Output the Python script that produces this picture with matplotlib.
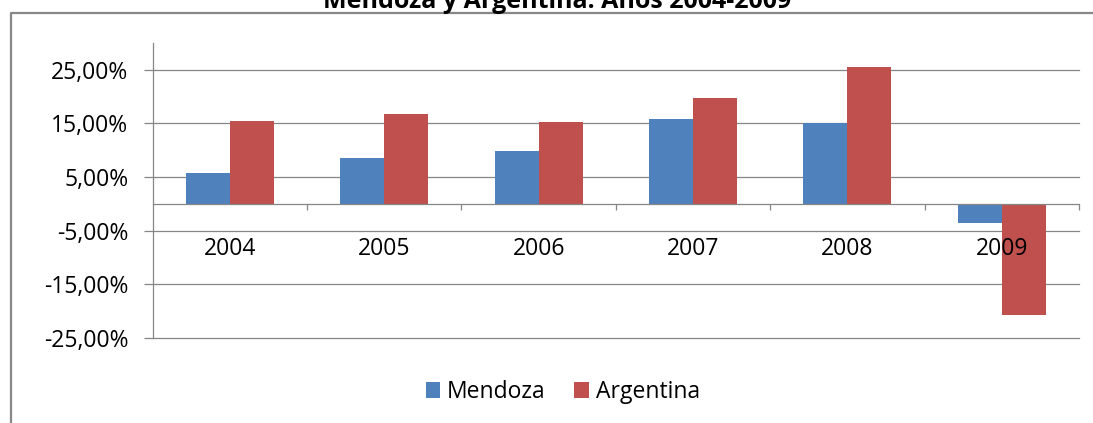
import matplotlib.pyplot as plt
from matplotlib.lines import Line2D
from matplotlib.ticker import FuncFormatter

# Data
years = ["2004", "2005", "2006", "2007", "2008", "2009"]
mendoza = [5.8, 8.6, 9.9, 15.9, 15.1, -3.5]
argentina = [15.4, 16.7, 15.2, 19.8, 25.6, -20.8]
yticks = [-25, -15, -5, 5, 15, 25]

BLUE = '#4F81BD'
RED = '#C0504D'
GRAY = '#868686'

plt.rcParams['font.family'] = ['Open Sans', 'DejaVu Sans']

fig = plt.figure(figsize=(10.93, 4.23), dpi=100)
ax = fig.add_axes([0.1397, 0.2009, 0.8475, 0.6974])

x = list(range(len(years)))
w = 0.285
ax.bar([i - w / 2 for i in x], mendoza, width=w, color=BLUE, label='Mendoza', zorder=2)
ax.bar([i + w / 2 for i in x], argentina, width=w, color=RED, label='Argentina', zorder=2)

ax.set_xlim(-0.5, len(years) - 0.5)
ax.set_ylim(-25, 30)

# y axis
ax.set_yticks(yticks)
ax.yaxis.set_major_formatter(FuncFormatter(lambda v, p: f"{v:.2f}%".replace('.', ',')))
ax.tick_params(axis='y', direction='out', length=6.5, width=0.9, color=GRAY,
               labelsize=16.5, pad=11)
ax.yaxis.grid(True, color=GRAY, linewidth=0.9)
for gl in ax.get_ygridlines():
    gl.set_clip_on(False)
ax.set_axisbelow(True)

# category axis through zero
ax.spines['top'].set_visible(False)
ax.spines['right'].set_visible(False)
ax.spines['bottom'].set_position(('data', 0))
for s in ('left', 'bottom'):
    ax.spines[s].set_color(GRAY)
    ax.spines[s].set_linewidth(0.9)
ax.set_xticks(x)
ax.set_xticklabels(years)
ax.set_xticks([i + 0.5 for i in x], minor=True)
ax.tick_params(axis='x', which='major', length=0, labelsize=16.5, pad=24)
ax.tick_params(axis='x', which='minor', direction='out', length=4.5, width=0.9, color=GRAY)
ax.xaxis.set_zorder(5)

leg = fig.legend(loc='center', bbox_to_anchor=(0.515, 0.073), ncol=2, frameon=False,
                 fontsize=16.5, handlelength=0.64, handleheight=0.64,
                 handletextpad=0.3, columnspacing=1.25)

fig.text(0.5096, 0.981, 'Mendoza y Argentina. Años 2004-2009', ha='center',
         va='baseline', fontsize=18, fontweight='bold')

# chart area border (only left and top visible in the crop)
fig.add_artist(Line2D([10.5 / 1093, 10.5 / 1093, 1.01], [-0.01, 1 - 13.5 / 423, 1 - 13.5 / 423],
                      transform=fig.transFigure, color='#878787', linewidth=1.6))

fig.savefig('out.png', dpi=100)
